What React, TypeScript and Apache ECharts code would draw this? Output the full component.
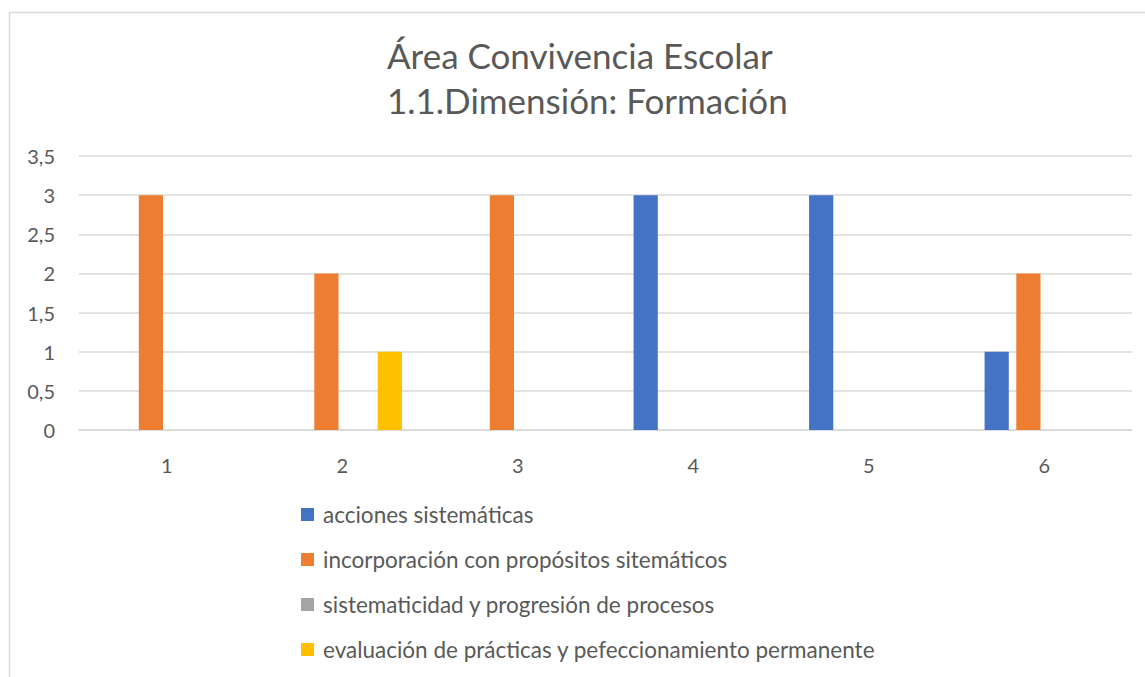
import React, { useEffect, useRef } from "react";
import * as echarts from "echarts";

const categories = ["1", "2", "3", "4", "5", "6"];
const seriesNames = [
  "acciones sistemáticas",
  "incorporación con propósitos sitemáticos",
  "sistematicidad y progresión de procesos",
  "evaluación de prácticas y pefeccionamiento permanente",
];
const acciones = [0, 0, 0, 3, 3, 1];
const incorporacion = [3, 2, 3, 0, 0, 2];
const sistematicidad = [0, 0, 0, 0, 0, 0];
const evaluacion = [0, 1, 0, 0, 0, 0];
const colors = ["#4472C4", "#ED7D31", "#A5A5A5", "#FFC000"];

const FONT = "Lato, 'Open Sans', sans-serif";
const TXT = "#595959";

export default function App() {
  const ref = useRef<HTMLDivElement>(null);
  useEffect(() => {
    if (!ref.current) return;
    const chart = echarts.init(ref.current, null, { renderer: "svg" });
    const values = [acciones, incorporacion, sistematicidad, evaluacion];
    chart.setOption({
      animation: false,
      backgroundColor: "#ffffff",
      textStyle: { fontFamily: FONT },
      title: {
        text: "Área Convivencia Escolar\n1.1.Dimensión: Formación",
        left: 382,
        top: 27,
        textAlign: "left",
        textStyle: { fontFamily: FONT, fontSize: 35, fontWeight: "normal", color: TXT, lineHeight: 45, align: "center" },
      },
      graphic: [
        {
          type: "rect",
          shape: { x: 9.5, y: 12.5, width: 1300, height: 800 },
          style: { fill: "none", stroke: "#d9d9d9", lineWidth: 1.5 },
          silent: true,
        },
      ],
      legend: {
        orient: "vertical",
        left: 301,
        top: 503,
        height: 172,
        padding: 0,
        itemWidth: 13,
        itemHeight: 13,
        itemGap: 22,
        icon: "rect",
        textStyle: { fontFamily: FONT, fontSize: 22.5, color: TXT, padding: [0, 0, 0, 4] },
        data: seriesNames,
      },
      grid: { left: 79, right: 13, top: 156, bottom: 247, containLabel: false },
      xAxis: {
        type: "category",
        data: categories,
        axisLine: { show: true, lineStyle: { color: "#d9d9d9", width: 1.5 } },
        axisTick: { show: false },
        axisLabel: { fontFamily: FONT, fontSize: 20, color: TXT, margin: 25 },
      },
      yAxis: {
        type: "value",
        min: 0,
        max: 3.5,
        interval: 0.5,
        axisLine: { show: false },
        axisTick: { show: false },
        splitLine: { lineStyle: { color: "#d9d9d9", width: 1.5 } },
        axisLabel: {
          fontFamily: FONT,
          fontSize: 20,
          color: TXT,
          margin: 24,
          formatter: (v: number) => String(v).replace(".", ","),
        },
      },
      series: seriesNames.map((name, i) => ({
        name,
        type: "bar",
        data: values[i],
        itemStyle: { color: colors[i] },
        barGap: "31%",
        barCategoryGap: "32%",
      })),
    });
    return () => chart.dispose();
  }, []);
  return (
    <div
      ref={ref}
      style={{ position: "fixed", left: 0, top: 0, width: 1145, height: 677 }}
    />
  );
}
